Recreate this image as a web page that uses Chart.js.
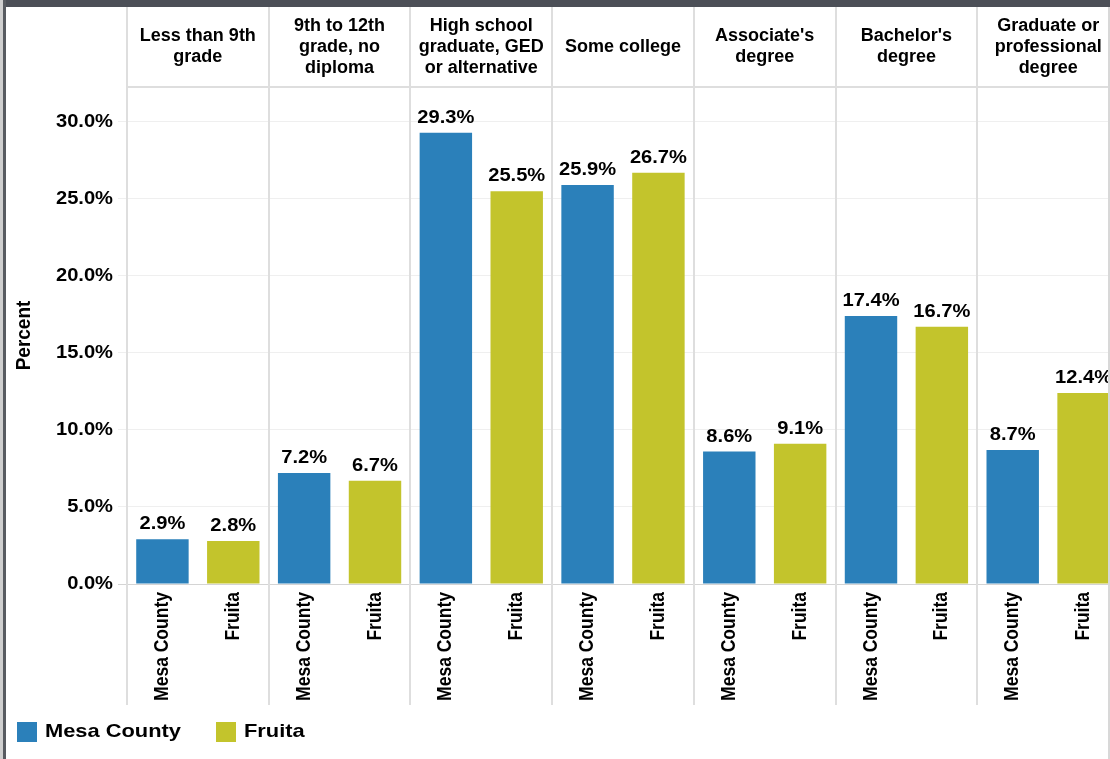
<!DOCTYPE html>
<html>
<head>
<meta charset="utf-8">
<script src="https://cdn.jsdelivr.net/npm/chart.js@4/dist/chart.umd.min.js"></script>
<style>
  html, body { margin: 0; padding: 0; overflow: hidden; background: #fff; }
  canvas { display: block; }
</style>
</head>
<body>
<canvas id="eduChart" width="1120" height="759"></canvas>
<script>
// du lieu doc tu hinh
const categories = [
    ['Less than 9th', 'grade'],
    ['9th to 12th', 'grade, no', 'diploma'],
    ['High school', 'graduate, GED', 'or alternative'],
    ['Some college'],
    ["Associate's", 'degree'],
    ["Bachelor's", 'degree'],
    ['Graduate or', 'professional', 'degree']
];
const seriesNames = ['Mesa County', 'Fruita'];
const mesaCounty = [2.9, 7.2, 29.3, 25.9, 8.6, 17.4, 8.7];
const fruita = [2.8, 6.7, 25.5, 26.7, 9.1, 16.7, 12.4];
const yTicks = [0, 5, 10, 15, 20, 25, 30];

const BLUE = '#2b80ba';
const OLIVE = '#c3c42c';
const FONT = '"Liberation Sans", Arial, sans-serif';

// ve chu co gian ngang (anh goc bi keo rong)
function drawText(ctx, s, x, y, o) {
    ctx.save();
    ctx.translate(x, y);
    ctx.scale(o.sx || 1, 1);
    if (o.rot) ctx.rotate(-Math.PI / 2);
    ctx.font = 'bold ' + o.size + 'px ' + FONT;
    ctx.fillStyle = o.color || '#000';
    ctx.textAlign = o.align || 'center';
    ctx.textBaseline = o.baseline || 'middle';
    ctx.fillText(s, 0, 0);
    ctx.restore();
}

const panelPlugin = {
    id: 'panelPlugin',
    beforeDatasetsDraw(chart) {
        const ctx = chart.ctx;
        const xs = chart.scales.x;
        const area = chart.chartArea;
        const catW = (area.right - area.left) / categories.length;
        ctx.save();
        ctx.fillStyle = '#dedede';
        // duong ke doc giua cac nhom
        for (let i = 0; i < categories.length; i++) {
            const x = xs.getPixelForValue(i) - catW / 2;
            ctx.fillRect(Math.round(x) - 1, 7, 2, 698);
        }
        // duong ke duoi tieu de
        ctx.fillRect(area.left, 86, chart.width, 2);
        ctx.restore();
    },
    afterDraw(chart) {
        const ctx = chart.ctx;
        const xs = chart.scales.x;
        const ys = chart.scales.y;
        const area = chart.chartArea;

        // tieu de tung nhom
        categories.forEach((lines, i) => {
            const cx = xs.getPixelForValue(i);
            const y0 = 47 - (lines.length - 1) * 21 / 2;
            lines.forEach((ln, k) => drawText(ctx, ln, cx, y0 + k * 21, { size: 18 }));
        });

        // nhan truc y
        yTicks.forEach(v => {
            drawText(ctx, v.toFixed(1) + '%', 113, ys.getPixelForValue(v),
                { size: 17.5, sx: 1.15, align: 'right' });
        });
        drawText(ctx, 'Percent', 25, (area.top + area.bottom) / 2, { size: 19, sx: 1.05, rot: true });

        // nhan gia tri va ten chuoi duoi cot
        chart.data.datasets.forEach((ds, d) => {
            chart.getDatasetMeta(d).data.forEach((bar, i) => {
                drawText(ctx, ds.data[i].toFixed(1) + '%', bar.x, bar.y - 6,
                    { size: 17.5, sx: 1.15, baseline: 'bottom' });
                drawText(ctx, ds.label, bar.x, area.bottom + 8,
                    { size: 17.5, sx: 1.15, rot: true, align: 'right' });
            });
        });

        // chu giai
        const legendX = [17, 216];
        chart.data.datasets.forEach((ds, d) => {
            ctx.fillStyle = ds.backgroundColor;
            ctx.fillRect(legendX[d], 722, 20, 20);
            drawText(ctx, ds.label, legendX[d] + 28, 732, { size: 19, sx: 1.15, align: 'left' });
        });

        // khung
        ctx.save();
        ctx.fillStyle = '#d8d8d8';
        ctx.fillRect(1108, 0, 2, chart.height);
        ctx.fillStyle = '#4c4f57';
        ctx.fillRect(0, 0, chart.width, 7);
        ctx.fillStyle = '#cfcfcf';
        ctx.fillRect(0, 0, 3, chart.height);
        ctx.fillStyle = '#585b61';
        ctx.fillRect(3, 0, 3, chart.height);
        ctx.restore();
    }
};

const eduChart = new Chart(document.getElementById('eduChart'), {
    type: 'bar',
    data: {
        labels: categories,
        datasets: [{
            label: seriesNames[0],
            data: mesaCounty,
            backgroundColor: BLUE
        }, {
            label: seriesNames[1],
            data: fruita,
            backgroundColor: OLIVE
        }]
    },
    options: {
        responsive: false,
        animation: false,
        layout: { padding: { top: 87, bottom: 175, left: 0, right: 1 } },
        datasets: { bar: { barPercentage: 0.74, categoryPercentage: 1 } },
        plugins: { legend: { display: false }, tooltip: { enabled: false } },
        scales: {
            x: { display: false },
            y: {
                min: 0,
                max: 32.27,
                border: { display: false },
                ticks: { stepSize: 5, color: 'rgba(0,0,0,0)' },
                grid: {
                    tickLength: 9,
                    color: c => {
                        if (!c.tick) return 'rgba(0,0,0,0)';
                        if (c.tick.value === 0) return '#d4d4d4';
                        return c.tick.value % 5 === 0 ? '#efefef' : 'rgba(0,0,0,0)';
                    }
                },
                afterFit: s => { s.width = 127; }
            }
        }
    },
    plugins: [panelPlugin]
});
</script>
</body>
</html>
